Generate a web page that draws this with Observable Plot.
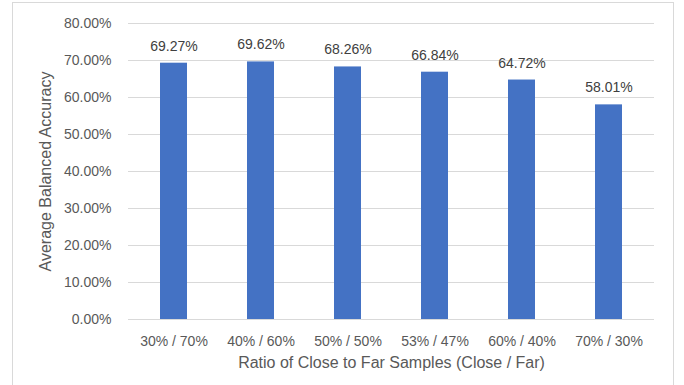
<!DOCTYPE html>
<html>
<head>
<meta charset="utf-8">
<script src="https://cdn.jsdelivr.net/npm/d3@7"></script>
<script src="https://cdn.jsdelivr.net/npm/@observablehq/plot@0.6"></script>
<style>
  html, body { margin: 0; padding: 0; background: #fff; }
  #wrap { position: relative; width: 684px; height: 385px; overflow: hidden; }
  #frame { position: absolute; left: 12px; top: 2px; width: 662px; height: 400px; border: 1px solid #d9d9d9; box-sizing: border-box; pointer-events: none; }
</style>
</head>
<body>
<div id="wrap"><div id="frame"></div></div>
<script>
const categories = ["30% / 70%", "40% / 60%", "50% / 50%", "53% / 47%", "60% / 40%", "70% / 30%"];
const values = [0.6927, 0.6962, 0.6826, 0.6684, 0.6472, 0.5801];
const yTicks = [0, 0.1, 0.2, 0.3, 0.4, 0.5, 0.6, 0.7, 0.8];

const data = categories.map((c, i) => ({cat: c, v: values[i]}));
const fmt = d3.format(".2%");
const font = "'Liberation Sans', Arial, sans-serif";

const chart = Plot.plot({
  width: 684,
  height: 385,
  marginLeft: 128,
  marginRight: 30,
  marginTop: 23,
  marginBottom: 66,
  style: {fontFamily: font, fontSize: "14px", color: "#595959", background: "transparent"},
  x: {domain: categories, paddingInner: 0.69, paddingOuter: 0.345, label: null},
  y: {domain: [0, 0.8], label: null},
  marks: [
    Plot.gridY(yTicks, {stroke: "#d9d9d9", strokeOpacity: 1, strokeWidth: 1}),
    Plot.barY(data, {x: "cat", y: "v", fill: "#4472C4"}),
    Plot.text(data, {x: "cat", y: "v", text: d => fmt(d.v), dy: -17, fill: "#404040", fontSize: 14}),
    Plot.axisY({ticks: yTicks, tickFormat: fmt, tickSize: 0, tickPadding: 17, label: null, fontSize: 14, fill: "#595959"}),
    Plot.axisX({tickSize: 0, tickPadding: 17, label: null, fontSize: 14, fill: "#595959"}),
    Plot.text(["Average Balanced Accuracy"], {frameAnchor: "left", textAnchor: "middle", dx: -83, rotate: -90, fontSize: 16, fill: "#595959"}),
    Plot.text(["Ratio of Close to Far Samples (Close / Far)"], {frameAnchor: "bottom", dy: 48, fontSize: 16, fill: "#595959"})
  ]
});
document.getElementById("wrap").prepend(chart);
</script>
</body>
</html>
